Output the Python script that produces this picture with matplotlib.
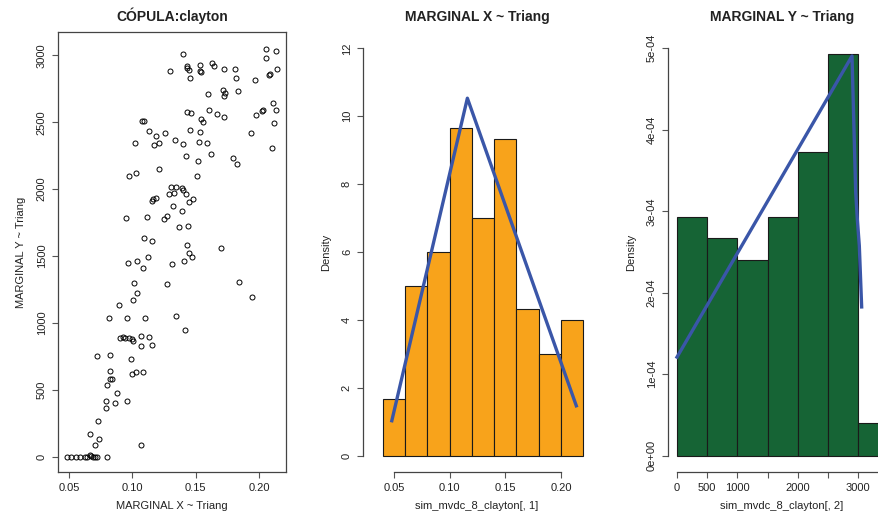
import matplotlib
matplotlib.use("Agg")
import matplotlib.pyplot as plt
import numpy as np

plt.rcParams['font.family'] = ['Liberation Sans', 'DejaVu Sans']

# --- datos ---
# simulacion copula clayton (MARGINAL X, MARGINAL Y)
sim_x = [0.1398, 0.2059, 0.2138, 0.2059, 0.1298, 0.1429, 0.1435, 0.1448, 0.1537, 0.1535,
         0.1543, 0.1632, 0.1648, 0.1727, 0.1811, 0.1453, 0.1819, 0.1967, 0.2080, 0.2085,
         0.2146, 0.1601, 0.1719, 0.1732, 0.1727, 0.1832, 0.1435, 0.1464, 0.1608, 0.1672,
         0.1727, 0.1545, 0.1561, 0.1974, 0.2024, 0.2035, 0.2135, 0.2114, 0.2122, 0.1074,
         0.1095, 0.1135, 0.1458, 0.1532, 0.1935, 0.1024, 0.1187, 0.1171, 0.1214, 0.1256,
         0.1337, 0.1398, 0.1524, 0.1587, 0.1422, 0.1516, 0.1622, 0.1793, 0.1827, 0.2101,
         0.0974, 0.1027, 0.1214, 0.1508, 0.1308, 0.1343, 0.1290, 0.1327, 0.1395, 0.1403,
         0.1422, 0.1482, 0.1445, 0.1166, 0.1156, 0.1187, 0.1321, 0.1390, 0.0948, 0.1116,
         0.1248, 0.1277, 0.1369, 0.1437, 0.1095, 0.1158, 0.1435, 0.1698, 0.1448, 0.1474,
         0.1127, 0.0963, 0.1040, 0.1082, 0.1314, 0.1406, 0.1016, 0.1274, 0.1843, 0.1040,
         0.1008, 0.1945, 0.0898, 0.0813, 0.0955, 0.1103, 0.1345, 0.1414, 0.0924, 0.0900,
         0.0942, 0.0974, 0.1003, 0.0998, 0.1071, 0.1135, 0.1071, 0.1158, 0.0721, 0.0824,
         0.0987, 0.0821, 0.0826, 0.0837, 0.1000, 0.1032, 0.1087, 0.0798, 0.0877, 0.0792,
         0.0955, 0.0863, 0.0790, 0.0729, 0.0666, 0.0737, 0.0705, 0.1071, 0.0666, 0.0676,
         0.0482, 0.0516, 0.0553, 0.0590, 0.0626, 0.0645, 0.0705, 0.0719, 0.0798, 0.0687]
sim_y = [3007, 3049, 3034, 2982, 2880, 2919, 2902, 2890, 2927, 2885,
         2877, 2944, 2919, 2900, 2897, 2832, 2827, 2815, 2855, 2862,
         2900, 2708, 2740, 2720, 2698, 2730, 2576, 2571, 2588, 2563,
         2541, 2521, 2499, 2556, 2583, 2588, 2588, 2643, 2496, 2508,
         2508, 2434, 2441, 2429, 2419, 2344, 2394, 2332, 2347, 2416,
         2366, 2337, 2354, 2342, 2244, 2207, 2262, 2229, 2185, 2309,
         2100, 2122, 2152, 2100, 2013, 2018, 1960, 1973, 2005, 1995,
         1963, 1923, 1903, 1928, 1913, 1935, 1876, 1838, 1786, 1794,
         1774, 1798, 1716, 1724, 1637, 1609, 1584, 1559, 1520, 1495,
         1495, 1445, 1462, 1410, 1437, 1465, 1295, 1293, 1305, 1221,
         1171, 1196, 1131, 1034, 1034, 1034, 1051, 944, 894, 887,
         889, 884, 864, 877, 902, 894, 825, 834, 750, 760,
         727, 640, 583, 578, 620, 633, 635, 533, 476, 414,
         414, 401, 366, 267, 172, 130, 90, 90, 12, 5,
         0, 0, 0, 0, 0, 0, 0, 0, 0, 0]

# histograma marginal X
breaks_x = [0.04, 0.06, 0.08, 0.10, 0.12, 0.14, 0.16, 0.18, 0.20, 0.22]
dens_x = [1.667, 5.0, 6.0, 9.667, 7.0, 9.333, 4.333, 3.0, 4.0]
# densidad triangular (linea azul)
tri_x = [0.048, 0.1159, 0.2138]
tri_dx = [1.03, 10.53, 1.47]

# histograma marginal Y
breaks_y = [0, 500, 1000, 1500, 2000, 2500, 3000, 3500]
dens_y = [2.933e-4, 2.667e-4, 2.4e-4, 2.933e-4, 3.733e-4, 4.933e-4, 0.4e-4]
tri_y = [0, 2900, 2961, 2988, 3021, 3060]
tri_dy = [1.21e-4, 4.905e-4, 3.235e-4, 2.904e-4, 2.577e-4, 1.826e-4]

W, H = 879, 516
fig = plt.figure(figsize=(W / 100, H / 100), dpi=100)


def box(x0, y0, x1, y1):
    # pixeles -> fraccion de figura
    return [x0 / W, 1 - y1 / H, (x1 - x0) / W, (y1 - y0) / H]


def r_style(ax, full_box=False):
    ax.tick_params(axis='both', direction='out', length=4, width=0.8,
                   color='#555555', labelsize=8, pad=4, labelcolor='#222222')
    for lbl in ax.get_yticklabels():
        lbl.set_rotation(90)
        lbl.set_va('center')
    for s in ax.spines.values():
        s.set_color('#444444')
        s.set_linewidth(0.9)
    if not full_box:
        ax.spines['top'].set_visible(False)
        ax.spines['right'].set_visible(False)


title_kw = dict(fontsize=10, fontweight='bold', color='#222222', pad=8)
label_kw = dict(fontsize=8, color='#222222')

# --- copula ---
ax1 = fig.add_axes(box(58, 32, 286, 472))
ax1.plot(sim_x, sim_y, 'o', mfc='none', mec='black', ms=3.6, mew=0.7)
ax1.set_xlim(0.0413, 0.2214)
ax1.set_ylim(-114, 3174)
ax1.set_xticks([0.05, 0.10, 0.15, 0.20])
ax1.set_xticklabels(['0.05', '0.10', '0.15', '0.20'])
ax1.set_yticks([0, 500, 1000, 1500, 2000, 2500, 3000])
r_style(ax1, full_box=True)
ax1.set_title('CÓPULA:clayton', **title_kw)
ax1.set_xlabel('MARGINAL X ~ Triang', labelpad=6, **label_kw)
ax1.set_ylabel('MARGINAL Y ~ Triang', labelpad=8, **label_kw)

# --- marginal X ---
ax2 = fig.add_axes(box(363, 32, 591, 472))
ax2.bar(breaks_x[:-1], dens_x, width=np.diff(breaks_x), align='edge',
        color='#f8a31b', edgecolor='#1a1a1a', linewidth=0.8)
ax2.plot(tri_x, tri_dx, color='#3a56a8', lw=2.4)
ax2.set_xlim(0.0221, 0.2270)
ax2.set_ylim(-0.48, 12.48)
ax2.set_xticks([0.05, 0.10, 0.15, 0.20])
ax2.set_xticklabels(['0.05', '0.10', '0.15', '0.20'])
ax2.set_yticks([0, 2, 4, 6, 8, 10, 12])
ax2.spines['bottom'].set_bounds(0.05, 0.20)
ax2.spines['left'].set_bounds(0, 12)
r_style(ax2)
ax2.set_title('MARGINAL X ~ Triang', **title_kw)
ax2.set_xlabel('sim_mvdc_8_clayton[, 1]', labelpad=6, **label_kw)
ax2.set_ylabel('Density', labelpad=8, **label_kw)

# --- marginal Y (cortado a la derecha, como en la imagen) ---
ax3 = fig.add_axes(box(668, 32, 896, 472))
ax3.bar(breaks_y[:-1], dens_y, width=np.diff(breaks_y), align='edge',
        color='#166435', edgecolor='#1a1a1a', linewidth=0.8)
ax3.plot(tri_y, tri_dy, color='#3a56a8', lw=2.4)
ax3.set_xlim(-149, 3629)
ax3.set_ylim(-0.2e-4, 5.2e-4)
ax3.set_xticks(breaks_y)
ax3.set_xticklabels(['0', '500', '1000', '', '2000', '', '3000', ''])
yt = [0, 1e-4, 2e-4, 3e-4, 4e-4, 5e-4]
ax3.set_yticks(yt)
ax3.set_yticklabels([f'{v:.0e}' for v in yt])
ax3.spines['bottom'].set_bounds(0, 3500)
ax3.spines['left'].set_bounds(0, 5e-4)
r_style(ax3)
ax3.set_title('MARGINAL Y ~ Triang', **title_kw)
ax3.set_xlabel('sim_mvdc_8_clayton[, 2]', labelpad=6, **label_kw)
ax3.set_ylabel('Density', labelpad=8, **label_kw)

fig.savefig('out.png', dpi=100)
